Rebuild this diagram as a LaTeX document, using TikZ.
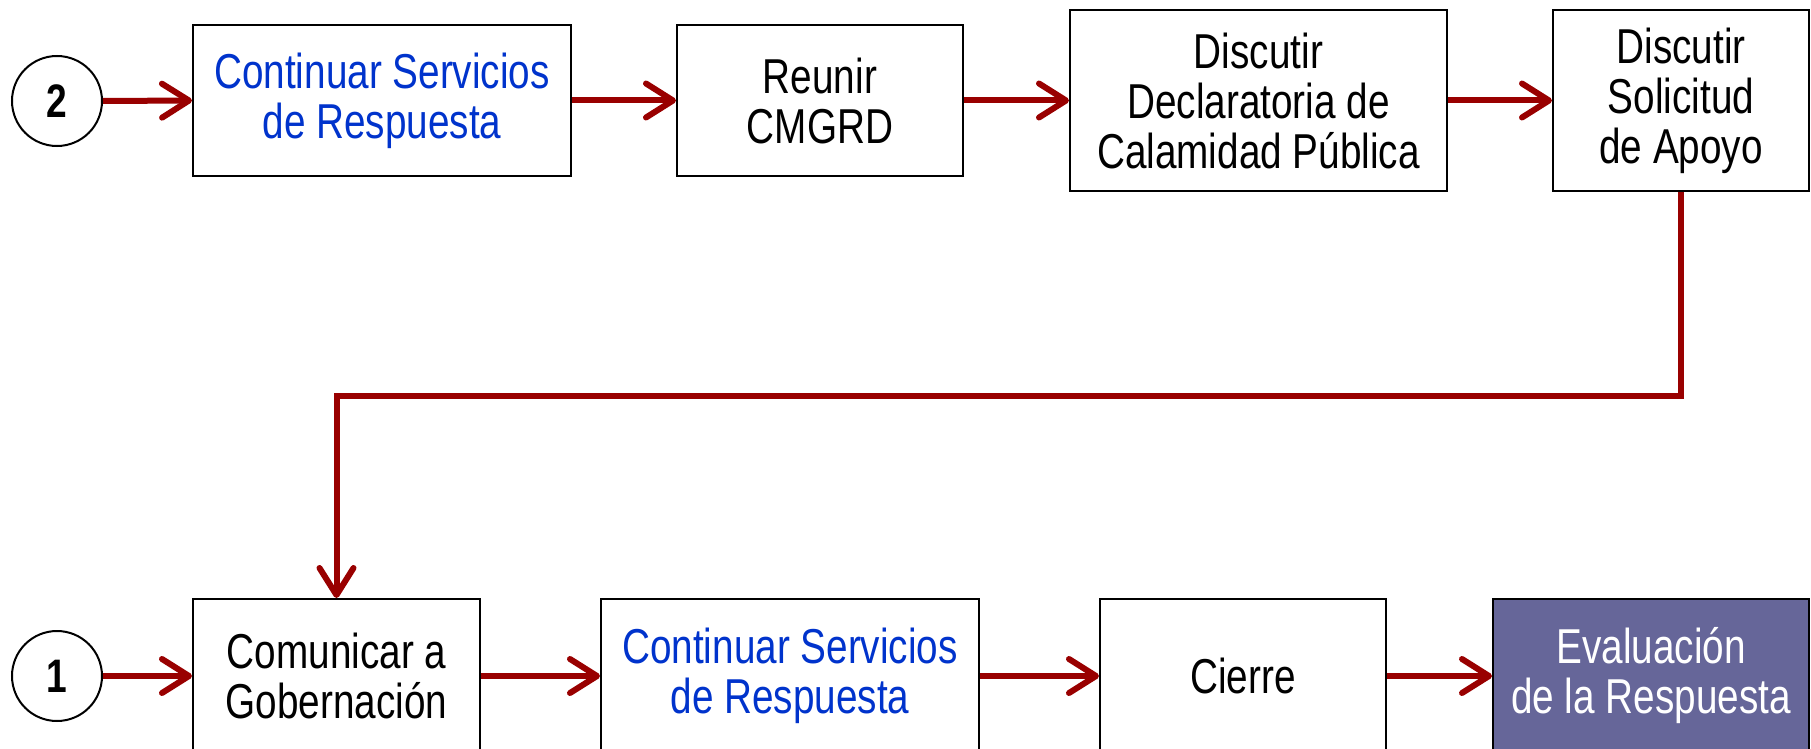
\documentclass[tikz,border=0pt]{standalone}
\usepackage{fontspec}
\setmainfont{Liberation Sans}[FakeStretch=0.79]
\usetikzlibrary{arrows.meta}
\definecolor{arrred}{HTML}{990000}
\definecolor{txtblue}{HTML}{0033CC}
\definecolor{evalfill}{HTML}{666699}
\tikzset{
  stepbox/.style={draw=black, line width=2pt, fill=white, inner sep=0pt, align=center,
    font=\fontsize{49}{50}\selectfont},
  numcircle/.style={draw=black, line width=2pt, circle, minimum size=90pt, inner sep=0pt,
    font=\fontsize{47}{50}\selectfont\bfseries},
  flow/.style={draw=arrred, line width=6pt, -{Straight Barb[length=27pt,width=34pt,round]}},
}
\begin{document}
\begin{tikzpicture}[x=1pt,y=-1pt]
\useasboundingbox (0,0) rectangle (1811,749);
% top row
\node[numcircle] (c2) at (57,101) {2};
\node[stepbox, minimum width=378pt, minimum height=151pt, text=txtblue] (s1) at (382,100.5) {Continuar Servicios\\de Respuesta};
\node[stepbox, minimum width=286pt, minimum height=151pt] (s2) at (820,100.5) {Reunir\\CMGRD};
\node[stepbox, minimum width=377pt, minimum height=181pt] (s3) at (1258.5,100.5) {Discutir\\Declaratoria de\\Calamidad Pública};
\node[stepbox, minimum width=256pt, minimum height=181pt] (s4) at (1681,100.5) {Discutir\\Solicitud\\de Apoyo};
% bottom row
\node[numcircle] (c1) at (57,676) {1};
\node[stepbox, minimum width=287pt, minimum height=154pt] (s5) at (336.5,676) {Comunicar a\\Gobernación};
\node[stepbox, minimum width=378pt, minimum height=154pt, text=txtblue] (s6) at (790,676) {Continuar Servicios\\de Respuesta};
\node[stepbox, minimum width=286pt, minimum height=154pt] (s7) at (1243,676) {Cierre};
\node[stepbox, minimum width=316pt, minimum height=154pt, fill=evalfill, text=white] (s8) at (1651,676) {Evaluación\\de la Respuesta};
% connectors
\draw[flow] (c2.east) -- (s1.west);
\draw[flow] (s1.east) -- (s2.west);
\draw[flow] (s2.east) -- (s3.west);
\draw[flow] (s3.east) -- (s4.west);
\draw[flow] (s4.south) -- ++(0,204) -| (s5.north);
\draw[flow] (c1.east) -- (s5.west);
\draw[flow] (s5.east) -- (s6.west);
\draw[flow] (s6.east) -- (s7.west);
\draw[flow] (s7.east) -- (s8.west);
\end{tikzpicture}
\end{document}
